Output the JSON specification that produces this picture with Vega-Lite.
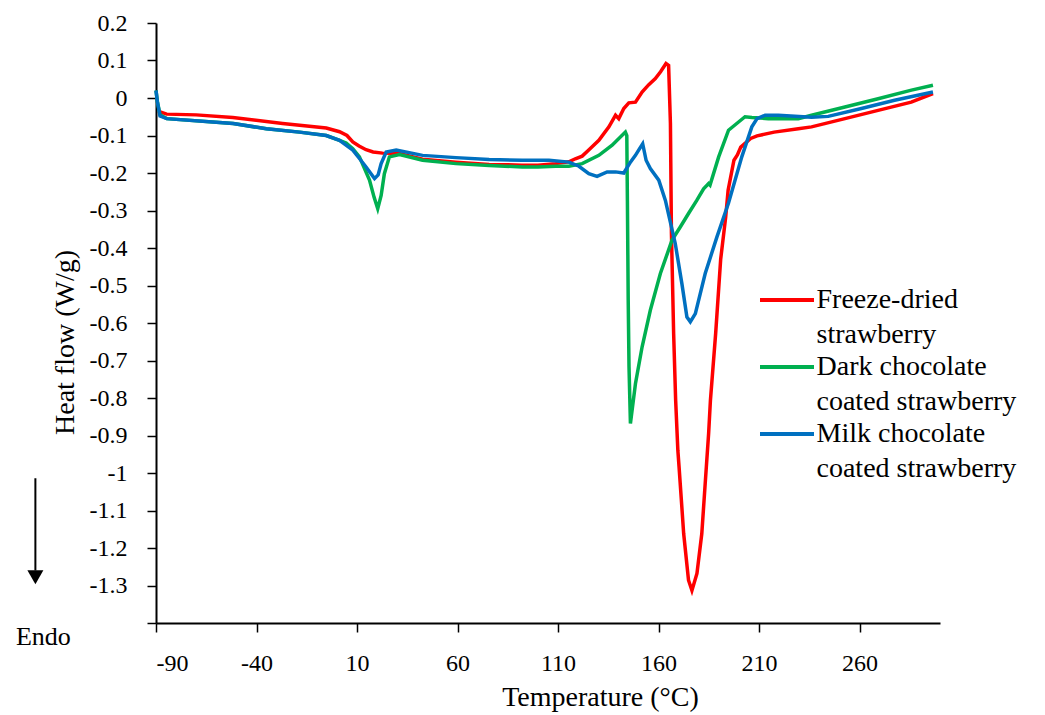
{
  "$schema": "https://vega.github.io/schema/vega-lite/v6.json",
  "width": 784,
  "height": 600,
  "autosize": {"type": "none"},
  "padding": {"left": 156, "top": 23, "right": 105, "bottom": 92},
  "background": "white",
  "config": {
    "view": {"stroke": null},
    "style": {"guide-label": {"lineHeight": 34.5}},
    "axis": {
      "grid": false,
      "domainColor": "black",
      "domainWidth": 2,
      "tickColor": "black",
      "tickWidth": 1.5,
      "tickSize": 9,
      "labelFont": "Liberation Serif",
      "labelFontSize": 24,
      "labelColor": "black",
      "labelOverlap": false,
      "titleFont": "Liberation Serif",
      "titleFontSize": 28,
      "titleFontWeight": "normal",
      "titleColor": "black"
    },
    "axisY": {
      "tickCount": 16,
      "labelOverlap": false,
      "labelPadding": 20,
      "labelExpr": "datum.value < -1.35 ? '' : (datum.value < 0 ? '-' : '') + format(abs(datum.value), '.1~f')"
    },
    "legend": {
      "labelFont": "Liberation Serif",
      "labelFontSize": 28,
      "labelColor": "black"
    }
  },
  "datasets": {
    "dsc": [
      {"s": "Freeze-dried strawberry", "t": -89, "hf": -0.035},
      {"s": "Freeze-dried strawberry", "t": -84.7, "hf": -0.043},
      {"s": "Freeze-dried strawberry", "t": -70, "hf": -0.045},
      {"s": "Freeze-dried strawberry", "t": -51.8, "hf": -0.052},
      {"s": "Freeze-dried strawberry", "t": -27, "hf": -0.068},
      {"s": "Freeze-dried strawberry", "t": -5.3, "hf": -0.08},
      {"s": "Freeze-dried strawberry", "t": 1.3, "hf": -0.09},
      {"s": "Freeze-dried strawberry", "t": 5, "hf": -0.1},
      {"s": "Freeze-dried strawberry", "t": 7.9, "hf": -0.117},
      {"s": "Freeze-dried strawberry", "t": 11, "hf": -0.128},
      {"s": "Freeze-dried strawberry", "t": 14.5, "hf": -0.138},
      {"s": "Freeze-dried strawberry", "t": 18, "hf": -0.144},
      {"s": "Freeze-dried strawberry", "t": 22.7, "hf": -0.147},
      {"s": "Freeze-dried strawberry", "t": 31, "hf": -0.148},
      {"s": "Freeze-dried strawberry", "t": 42.6, "hf": -0.163},
      {"s": "Freeze-dried strawberry", "t": 59.2, "hf": -0.171},
      {"s": "Freeze-dried strawberry", "t": 75.7, "hf": -0.177},
      {"s": "Freeze-dried strawberry", "t": 92, "hf": -0.179},
      {"s": "Freeze-dried strawberry", "t": 100, "hf": -0.179},
      {"s": "Freeze-dried strawberry", "t": 108.8, "hf": -0.175},
      {"s": "Freeze-dried strawberry", "t": 115.4, "hf": -0.17},
      {"s": "Freeze-dried strawberry", "t": 118.6, "hf": -0.162},
      {"s": "Freeze-dried strawberry", "t": 122, "hf": -0.155},
      {"s": "Freeze-dried strawberry", "t": 125, "hf": -0.14},
      {"s": "Freeze-dried strawberry", "t": 130.3, "hf": -0.113},
      {"s": "Freeze-dried strawberry", "t": 135.3, "hf": -0.077},
      {"s": "Freeze-dried strawberry", "t": 138.6, "hf": -0.046},
      {"s": "Freeze-dried strawberry", "t": 140.2, "hf": -0.055},
      {"s": "Freeze-dried strawberry", "t": 142.7, "hf": -0.028},
      {"s": "Freeze-dried strawberry", "t": 145.2, "hf": -0.013},
      {"s": "Freeze-dried strawberry", "t": 148.5, "hf": -0.011},
      {"s": "Freeze-dried strawberry", "t": 151.8, "hf": 0.016},
      {"s": "Freeze-dried strawberry", "t": 155, "hf": 0.035},
      {"s": "Freeze-dried strawberry", "t": 158.4, "hf": 0.052},
      {"s": "Freeze-dried strawberry", "t": 161, "hf": 0.07},
      {"s": "Freeze-dried strawberry", "t": 163.7, "hf": 0.092},
      {"s": "Freeze-dried strawberry", "t": 165, "hf": 0.087},
      {"s": "Freeze-dried strawberry", "t": 165.9, "hf": -0.068},
      {"s": "Freeze-dried strawberry", "t": 166.4, "hf": -0.36},
      {"s": "Freeze-dried strawberry", "t": 167.5, "hf": -0.628},
      {"s": "Freeze-dried strawberry", "t": 168.5, "hf": -0.806},
      {"s": "Freeze-dried strawberry", "t": 169.6, "hf": -0.94},
      {"s": "Freeze-dried strawberry", "t": 170.2, "hf": -0.984},
      {"s": "Freeze-dried strawberry", "t": 172.5, "hf": -1.162},
      {"s": "Freeze-dried strawberry", "t": 174.9, "hf": -1.286},
      {"s": "Freeze-dried strawberry", "t": 176.6, "hf": -1.313},
      {"s": "Freeze-dried strawberry", "t": 179.1, "hf": -1.268},
      {"s": "Freeze-dried strawberry", "t": 181.5, "hf": -1.162},
      {"s": "Freeze-dried strawberry", "t": 183.2, "hf": -1.028},
      {"s": "Freeze-dried strawberry", "t": 184.9, "hf": -0.895},
      {"s": "Freeze-dried strawberry", "t": 185.8, "hf": -0.806},
      {"s": "Freeze-dried strawberry", "t": 188.4, "hf": -0.628},
      {"s": "Freeze-dried strawberry", "t": 190.9, "hf": -0.43},
      {"s": "Freeze-dried strawberry", "t": 193.4, "hf": -0.317},
      {"s": "Freeze-dried strawberry", "t": 194.6, "hf": -0.246},
      {"s": "Freeze-dried strawberry", "t": 197.5, "hf": -0.166},
      {"s": "Freeze-dried strawberry", "t": 199.2, "hf": -0.152},
      {"s": "Freeze-dried strawberry", "t": 200.9, "hf": -0.131},
      {"s": "Freeze-dried strawberry", "t": 205.8, "hf": -0.108},
      {"s": "Freeze-dried strawberry", "t": 209, "hf": -0.101},
      {"s": "Freeze-dried strawberry", "t": 217.5, "hf": -0.091},
      {"s": "Freeze-dried strawberry", "t": 229.5, "hf": -0.082},
      {"s": "Freeze-dried strawberry", "t": 236.1, "hf": -0.077},
      {"s": "Freeze-dried strawberry", "t": 252.7, "hf": -0.055},
      {"s": "Freeze-dried strawberry", "t": 269.2, "hf": -0.033},
      {"s": "Freeze-dried strawberry", "t": 285.7, "hf": -0.011},
      {"s": "Freeze-dried strawberry", "t": 296.5, "hf": 0.012},

      {"s": "Dark chocolate coated strawberry", "t": -90, "hf": 0.02},
      {"s": "Dark chocolate coated strawberry", "t": -89.3, "hf": -0.01},
      {"s": "Dark chocolate coated strawberry", "t": -88, "hf": -0.045},
      {"s": "Dark chocolate coated strawberry", "t": -84.7, "hf": -0.055},
      {"s": "Dark chocolate coated strawberry", "t": -51.6, "hf": -0.068},
      {"s": "Dark chocolate coated strawberry", "t": -35.1, "hf": -0.082},
      {"s": "Dark chocolate coated strawberry", "t": -18.6, "hf": -0.091},
      {"s": "Dark chocolate coated strawberry", "t": -5.3, "hf": -0.1},
      {"s": "Dark chocolate coated strawberry", "t": 1.3, "hf": -0.113},
      {"s": "Dark chocolate coated strawberry", "t": 4.6, "hf": -0.12},
      {"s": "Dark chocolate coated strawberry", "t": 7.9, "hf": -0.135},
      {"s": "Dark chocolate coated strawberry", "t": 11.2, "hf": -0.157},
      {"s": "Dark chocolate coated strawberry", "t": 16.2, "hf": -0.219},
      {"s": "Dark chocolate coated strawberry", "t": 18.5, "hf": -0.265},
      {"s": "Dark chocolate coated strawberry", "t": 20.3, "hf": -0.295},
      {"s": "Dark chocolate coated strawberry", "t": 22, "hf": -0.26},
      {"s": "Dark chocolate coated strawberry", "t": 23.6, "hf": -0.202},
      {"s": "Dark chocolate coated strawberry", "t": 26.1, "hf": -0.157},
      {"s": "Dark chocolate coated strawberry", "t": 31.1, "hf": -0.151},
      {"s": "Dark chocolate coated strawberry", "t": 42.6, "hf": -0.166},
      {"s": "Dark chocolate coated strawberry", "t": 59.2, "hf": -0.175},
      {"s": "Dark chocolate coated strawberry", "t": 75.7, "hf": -0.18},
      {"s": "Dark chocolate coated strawberry", "t": 92.2, "hf": -0.184},
      {"s": "Dark chocolate coated strawberry", "t": 100, "hf": -0.184},
      {"s": "Dark chocolate coated strawberry", "t": 108.8, "hf": -0.182},
      {"s": "Dark chocolate coated strawberry", "t": 115.4, "hf": -0.182},
      {"s": "Dark chocolate coated strawberry", "t": 122, "hf": -0.175},
      {"s": "Dark chocolate coated strawberry", "t": 130.3, "hf": -0.153},
      {"s": "Dark chocolate coated strawberry", "t": 136.9, "hf": -0.126},
      {"s": "Dark chocolate coated strawberry", "t": 143.5, "hf": -0.091},
      {"s": "Dark chocolate coated strawberry", "t": 144.2, "hf": -0.1},
      {"s": "Dark chocolate coated strawberry", "t": 144.5, "hf": -0.273},
      {"s": "Dark chocolate coated strawberry", "t": 144.9, "hf": -0.539},
      {"s": "Dark chocolate coated strawberry", "t": 145.3, "hf": -0.717},
      {"s": "Dark chocolate coated strawberry", "t": 146, "hf": -0.868},
      {"s": "Dark chocolate coated strawberry", "t": 148.5, "hf": -0.762},
      {"s": "Dark chocolate coated strawberry", "t": 151.8, "hf": -0.664},
      {"s": "Dark chocolate coated strawberry", "t": 155.9, "hf": -0.566},
      {"s": "Dark chocolate coated strawberry", "t": 160.9, "hf": -0.468},
      {"s": "Dark chocolate coated strawberry", "t": 166.7, "hf": -0.379},
      {"s": "Dark chocolate coated strawberry", "t": 170.8, "hf": -0.344},
      {"s": "Dark chocolate coated strawberry", "t": 174.9, "hf": -0.308},
      {"s": "Dark chocolate coated strawberry", "t": 179, "hf": -0.273},
      {"s": "Dark chocolate coated strawberry", "t": 182.4, "hf": -0.242},
      {"s": "Dark chocolate coated strawberry", "t": 184.9, "hf": -0.228},
      {"s": "Dark chocolate coated strawberry", "t": 185.6, "hf": -0.232},
      {"s": "Dark chocolate coated strawberry", "t": 189.9, "hf": -0.157},
      {"s": "Dark chocolate coated strawberry", "t": 194.8, "hf": -0.086},
      {"s": "Dark chocolate coated strawberry", "t": 199.8, "hf": -0.064},
      {"s": "Dark chocolate coated strawberry", "t": 203, "hf": -0.05},
      {"s": "Dark chocolate coated strawberry", "t": 206.4, "hf": -0.052},
      {"s": "Dark chocolate coated strawberry", "t": 214.6, "hf": -0.055},
      {"s": "Dark chocolate coated strawberry", "t": 229.5, "hf": -0.055},
      {"s": "Dark chocolate coated strawberry", "t": 236.1, "hf": -0.046},
      {"s": "Dark chocolate coated strawberry", "t": 252.7, "hf": -0.024},
      {"s": "Dark chocolate coated strawberry", "t": 269.2, "hf": -0.002},
      {"s": "Dark chocolate coated strawberry", "t": 285.8, "hf": 0.021},
      {"s": "Dark chocolate coated strawberry", "t": 296.5, "hf": 0.034},

      {"s": "Milk chocolate coated strawberry", "t": -90, "hf": 0.02},
      {"s": "Milk chocolate coated strawberry", "t": -89.3, "hf": -0.01},
      {"s": "Milk chocolate coated strawberry", "t": -88, "hf": -0.048},
      {"s": "Milk chocolate coated strawberry", "t": -84.7, "hf": -0.055},
      {"s": "Milk chocolate coated strawberry", "t": -51.6, "hf": -0.068},
      {"s": "Milk chocolate coated strawberry", "t": -35.1, "hf": -0.082},
      {"s": "Milk chocolate coated strawberry", "t": -18.6, "hf": -0.091},
      {"s": "Milk chocolate coated strawberry", "t": -5.3, "hf": -0.1},
      {"s": "Milk chocolate coated strawberry", "t": 1.3, "hf": -0.113},
      {"s": "Milk chocolate coated strawberry", "t": 7.9, "hf": -0.139},
      {"s": "Milk chocolate coated strawberry", "t": 11, "hf": -0.16},
      {"s": "Milk chocolate coated strawberry", "t": 14.5, "hf": -0.184},
      {"s": "Milk chocolate coated strawberry", "t": 18.7, "hf": -0.215},
      {"s": "Milk chocolate coated strawberry", "t": 20.5, "hf": -0.205},
      {"s": "Milk chocolate coated strawberry", "t": 22, "hf": -0.175},
      {"s": "Milk chocolate coated strawberry", "t": 24.5, "hf": -0.144},
      {"s": "Milk chocolate coated strawberry", "t": 29.5, "hf": -0.139},
      {"s": "Milk chocolate coated strawberry", "t": 42.6, "hf": -0.153},
      {"s": "Milk chocolate coated strawberry", "t": 59.2, "hf": -0.159},
      {"s": "Milk chocolate coated strawberry", "t": 75.7, "hf": -0.164},
      {"s": "Milk chocolate coated strawberry", "t": 92.2, "hf": -0.166},
      {"s": "Milk chocolate coated strawberry", "t": 105.5, "hf": -0.166},
      {"s": "Milk chocolate coated strawberry", "t": 115.4, "hf": -0.171},
      {"s": "Milk chocolate coated strawberry", "t": 120.4, "hf": -0.182},
      {"s": "Milk chocolate coated strawberry", "t": 125.3, "hf": -0.202},
      {"s": "Milk chocolate coated strawberry", "t": 129.4, "hf": -0.209},
      {"s": "Milk chocolate coated strawberry", "t": 134.4, "hf": -0.197},
      {"s": "Milk chocolate coated strawberry", "t": 138.6, "hf": -0.197},
      {"s": "Milk chocolate coated strawberry", "t": 142.7, "hf": -0.2},
      {"s": "Milk chocolate coated strawberry", "t": 146, "hf": -0.171},
      {"s": "Milk chocolate coated strawberry", "t": 148.5, "hf": -0.153},
      {"s": "Milk chocolate coated strawberry", "t": 150.1, "hf": -0.139},
      {"s": "Milk chocolate coated strawberry", "t": 152.1, "hf": -0.122},
      {"s": "Milk chocolate coated strawberry", "t": 153.8, "hf": -0.166},
      {"s": "Milk chocolate coated strawberry", "t": 155.9, "hf": -0.188},
      {"s": "Milk chocolate coated strawberry", "t": 160.1, "hf": -0.219},
      {"s": "Milk chocolate coated strawberry", "t": 163.4, "hf": -0.273},
      {"s": "Milk chocolate coated strawberry", "t": 168.3, "hf": -0.388},
      {"s": "Milk chocolate coated strawberry", "t": 171.6, "hf": -0.495},
      {"s": "Milk chocolate coated strawberry", "t": 174.1, "hf": -0.584},
      {"s": "Milk chocolate coated strawberry", "t": 175.8, "hf": -0.597},
      {"s": "Milk chocolate coated strawberry", "t": 178.3, "hf": -0.575},
      {"s": "Milk chocolate coated strawberry", "t": 183.2, "hf": -0.468},
      {"s": "Milk chocolate coated strawberry", "t": 189, "hf": -0.371},
      {"s": "Milk chocolate coated strawberry", "t": 194.8, "hf": -0.28},
      {"s": "Milk chocolate coated strawberry", "t": 201.4, "hf": -0.157},
      {"s": "Milk chocolate coated strawberry", "t": 206.4, "hf": -0.077},
      {"s": "Milk chocolate coated strawberry", "t": 209, "hf": -0.055},
      {"s": "Milk chocolate coated strawberry", "t": 213, "hf": -0.046},
      {"s": "Milk chocolate coated strawberry", "t": 219.6, "hf": -0.046},
      {"s": "Milk chocolate coated strawberry", "t": 236.1, "hf": -0.051},
      {"s": "Milk chocolate coated strawberry", "t": 244.4, "hf": -0.049},
      {"s": "Milk chocolate coated strawberry", "t": 260.9, "hf": -0.028},
      {"s": "Milk chocolate coated strawberry", "t": 277.4, "hf": -0.006},
      {"s": "Milk chocolate coated strawberry", "t": 296.5, "hf": 0.016}
    ]
  },
  "layer": [
    {
      "data": {"name": "dsc"},
      "mark": {"type": "line", "strokeWidth": 3.5, "interpolate": "linear"},
      "encoding": {
        "x": {
          "field": "t",
          "type": "quantitative",
          "scale": {"domain": [-90, 300], "nice": false, "zero": false},
          "axis": {
            "title": "Temperature (°C)",
            "values": [-90, -40, 10, 60, 110, 160, 210, 260],
            "labelExpr": "(datum.value < 0 ? '-' : '') + abs(datum.value)",
            "labelFont": "Liberation Serif",
            "labelFontSize": 24,
            "labelPadding": 19,
            "labelOverlap": false,
            "titleX": 444,
            "titleY": 82,
            "titleBaseline": "alphabetic",
            "titleAlign": "center"
          }
        },
        "y": {
          "field": "hf",
          "type": "quantitative",
          "scale": {"domain": [-1.4, 0.2], "nice": false, "zero": false},
          "axis": {
            "title": "Heat flow (W/g)",
            "tickCount": 16,
            "labelFont": "Liberation Serif",
            "labelFontSize": 24,
            "labelPadding": 20,
            "labelOverlap": false,
            "titleX": -91,
            "titleY": 319,
            "titleBaseline": "middle",
            "titleAlign": "center",
            "titleAngle": -90
          }
        },
        "color": {
          "field": "s",
          "type": "nominal",
          "scale": {
            "domain": ["Freeze-dried strawberry", "Dark chocolate coated strawberry", "Milk chocolate coated strawberry"],
            "range": ["#FF0000", "#00B050", "#0070C0"]
          },
          "legend": {
            "title": null,
            "orient": "none",
            "legendX": 615.5,
            "legendY": 261.5,
            "padding": 0,
            "symbolType": "M-2,0L2,0",
            "symbolSize": 729,
            "symbolStrokeWidth": 4,
            "labelLimit": 0,
            "labelOffset": 14,
            "rowPadding": 3,
            "labelBaseline": "middle",
            "labelExpr": "datum.label == 'Freeze-dried strawberry' ? ['Freeze-dried', 'strawberry'] : datum.label == 'Dark chocolate coated strawberry' ? ['Dark chocolate', 'coated strawberry'] : ['Milk chocolate', 'coated strawberry']"
          }
        }
      }
    },
    {
      "data": {"values": [{}]},
      "mark": {"type": "rule", "color": "black", "strokeWidth": 2},
      "encoding": {
        "x": {"datum": -150, "type": "quantitative"},
        "y": {"datum": -1.014, "type": "quantitative"},
        "y2": {"datum": -1.26}
      }
    },
    {
      "data": {"values": [{}]},
      "mark": {"type": "point", "shape": "M-1,-0.875L1,-0.875L0,0.875Z", "filled": true, "color": "black", "opacity": 1, "size": 256},
      "encoding": {
        "x": {"datum": -150, "type": "quantitative"},
        "y": {"datum": -1.278, "type": "quantitative"}
      }
    },
    {
      "data": {"values": [{}]},
      "mark": {"type": "text", "text": "Endo", "font": "Liberation Serif", "fontSize": 26, "color": "black", "align": "center", "baseline": "middle"},
      "encoding": {
        "x": {"datum": -146, "type": "quantitative"},
        "y": {"datum": -1.438, "type": "quantitative"}
      }
    }
  ]
}
